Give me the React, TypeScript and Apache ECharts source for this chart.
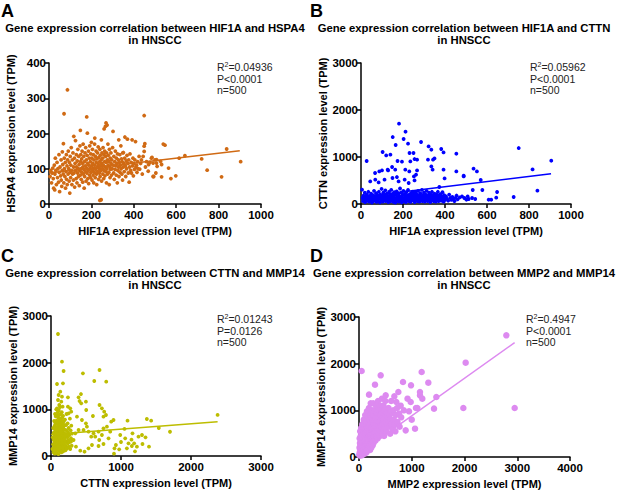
import React, { useEffect, useRef } from "react";
import * as echarts from "echarts";

// ---------- Data ----------
const panelLetters = ["A", "B", "C", "D"];
const titlesLine1 = [
  "Gene expression correlation between HIF1A and HSPA4",
  "Gene expression correlation between HIF1A and CTTN",
  "Gene expression correlation between CTTN and MMP14",
  "Gene expression correlation between MMP2 and MMP14",
];
const titleLine2 = "in HNSCC";
const xNames = [
  "HIF1A expression level (TPM)",
  "HIF1A expression level (TPM)",
  "CTTN expression level (TPM)",
  "MMP2 expression level (TPM)",
];
const yNames = [
  "HSPA4 expression level (TPM)",
  "CTTN expression level (TPM)",
  "MMP14 expression level (TPM)",
  "MMP14 expression level (TPM)",
];
const rSquared = ["0.04936", "0.05962", "0.01243", "0.4947"];
const pValues = ["P<0.0001", "P<0.0001", "P=0.0126", "P<0.0001"];
const nLabels = ["n=500", "n=500", "n=500", "n=500"];
const xMax = [1000, 1000, 3000, 4000];
const xInterval = [200, 200, 1000, 1000];
const yMax = [400, 3000, 3000, 3000];
const yInterval = [100, 1000, 1000, 1000];
const colors = ["#D06A14", "#0000FF", "#BDBD00", "#DD8AF0"];

const fitA = [[0, 88], [900, 151]];
const fitB = [[0, 150], [905, 645]];
const fitC = [[0, 460], [2380, 736]];
const fitD = [[0, 80], [2950, 2450]];

const pointsA = [
  [5,78],[8,95],[12,60],[15,88],[18,102],[20,72],[22,45],[25,110],[27,40],[28,85],[30,130],[32,95],[35,55],[38,118],[40,75],[42,100],[45,62],[47,140],[48,90],[50,35],
  [52,105],[55,80],[57,125],[58,68],[60,50],[62,95],[63,148],[65,112],[67,85],[68,171],[70,60],[71,256],[72,130],[73,100],[75,78],[77,118],[78,45],[80,92],[82,140],[83,70],[85,108],[86,55],[87,324],[88,125],[90,85],[91,150],[93,100],[95,65],[96,118],[98,31],[99,90],[100,135],
  [102,75],[103,110],[105,160],[106,95],[108,55],[110,125],[111,85],[113,145],[115,68],[116,105],[117,192],[118,88],[120,130],[121,48],[123,115],[125,180],[126,95],[128,72],[129,140],[130,105],[132,60],[133,122],[135,88],[136,155],[138,100],[139,78],[140,135],[142,112],[143,52],[145,95],[146,165],[148,209],[148,82],[149,120],[150,140],
  [151,100],[152,70],[154,128],[155,90],[156,150],[158,115],[159,62],[160,105],[161,170],[162,85],[164,135],[165,98],[166,45],[167,120],[168,78],[170,145],[171,108],[172,92],[173,160],[175,65],[176,125],[178,247],[178,102],[179,88],[180,138],[181,201],[182,115],[183,72],[185,95],[186,150],[187,58],[188,110],[190,130],[191,82],[192,165],[194,100],[195,120],[196,75],[197,142],[198,90],[200,175],[200,108],
  [202,130],[203,68],[204,95],[205,155],[206,115],[208,82],[209,140],[210,102],[211,60],[212,125],[214,90],[215,170],[216,187],[216,110],[218,75],[219,135],[220,98],[222,150],[223,118],[224,85],[225,55],[226,128],[228,105],[229,145],[230,92],[232,162],[233,112],[234,70],[235,132],[237,100],[238,88],[239,120],[240,10],[240,155],[241,78],[242,138],[243,108],[246,12],[245,95],[246,125],[247,182],[248,65],[249,115],[250,145],
  [252,100],[253,130],[254,85],[255,160],[256,110],[258,72],[259,140],[260,213],[260,95],[262,120],[263,150],[264,80],[265,105],[266,220],[267,135],[268,92],[269,230],[270,118],[271,60],[272,145],[273,100],[274,224],[275,125],[276,85],[278,170],[279,110],[280,138],[282,90],[283,120],[284,55],[285,155],[287,105],[288,75],[289,130],[290,98],[292,145],[293,115],[295,82],[296,125],[298,100],[300,160],[302,206],
  [303,110],[305,88],[306,135],[308,70],[310,120],[312,98],[313,150],[315,108],[317,82],[318,130],[320,115],[322,60],[323,142],[325,95],[327,125],[328,105],[329,182],[330,78],[332,118],[334,140],[335,90],[337,110],[339,165],[340,100],[342,128],[344,85],[345,120],[347,68],[348,145],[350,105],
  [351,146],[353,115],[355,92],[357,130],[358,190],[360,108],[362,78],[364,122],[366,100],[368,138],[370,184],[372,115],[374,88],[376,125],[378,62],[380,105],[382,142],[385,95],[388,118],[389,88],[392,182],[394,108],[396,130],[398,80],[400,115],[403,98],[405,125],[408,177],[410,105],[413,110],[415,90],[418,120],[420,100],
  [425,135],[428,99],[432,115],[436,125],[440,85],[444,135],[449,164],[449,149],[449,251],[452,171],[455,105],[460,120],[468,93],[470,112],[476,118],[483,130],[486,132],[491,116],[491,78],[494,78],[500,125],[504,88],[507,116],[507,126],[510,107],[526,121],[531,112],[531,77],[539,170],[547,167],
  [564,102],[575,72],[598,80],[614,130],[641,137],[720,128],[746,96],[814,77],[838,156],[904,120],
];

const pointsB = [
  [5,304],[8,120],[10,60],[12,180],[15,90],[18,240],[20,40],[22,150],[25,100],[27,915],[28,200],[30,70],[32,130],[35,260],[38,50],[40,110],[42,170],[44,481],[45,80],[48,220],[50,140],[52,30],[55,100],[57,190],[60,60],[62,280],[64,120],[66,160],[67,660],[68,517],[70,90],[72,230],[74,45],[76,130],[78,180],[80,70],[82,110],[84,460],[85,260],[87,694],[88,150],[90,35],[92,200],[94,95],[96,130],[98,320],[100,715],[100,75],[102,170],[103,1106],[104,50],[106,240],[108,110],[110,145],[112,517],[113,80],[115,190],[116,290],[118,60],[120,1034],[121,125],[123,220],[125,95],[127,730],[128,165],[129,715],
  [130,40],[132,135],[134,260],[136,85],[138,190],[140,1049],[140,55],[142,120],[144,300],[146,160],[148,787],[148,75],[150,553],[150,210],[151,1425],[152,105],[154,45],[156,170],[158,250],[160,90],[162,130],[163,730],[164,30],[165,1255],[166,200],[168,110],[170,270],[171,574],[172,65],[174,915],[174,150],[176,95],[178,220],[179,481],[180,50],[181,1709],[182,175],[184,120],[186,330],[188,80],[190,140],[192,240],[194,35],[195,900],[196,115],[198,190],[200,70],[202,280],[203,1383],[204,130],[206,55],[208,517],[208,210],[210,95],[211,730],[212,1538],[212,160],[214,40],[216,250],[218,110],[220,180],[222,75],[224,1283],[224,300],[226,140],[227,447],[228,60],[230,694],[230,200],[231,1085],[232,100],[234,165],[235,906],[236,45],[238,230],[240,120],[242,80],[244,190],[246,260],[248,140],[250,1085],[250,70],[252,587],[252,210],[254,110],[255,502],[255,957],[256,40],[258,170],[260,250],[262,623],[262,90],[264,130],[266,200],[267,943],[267,715],[268,60],[270,150],[272,280],[274,100],[276,180],[278,50],[280,130],[282,230],[284,80],[286,1319],[286,160],[288,110],[290,300],[292,60],[294,190],[296,130],[298,90],[300,240],
  [302,160],[304,50],[306,120],[308,200],[310,80],[312,280],[314,150],[316,100],[319,943],[318,60],[320,180],[322,1226],[322,130],[324,240],[326,90],[328,160],[330,40],[332,200],[334,120],[335,1155],[335,800],[336,80],[338,260],[340,150],[341,730],[342,100],[343,943],[344,190],[346,60],[348,130],[350,970],[350,220],[352,90],[354,160],[356,50],[358,120],[360,200],[362,80],[364,140],[366,260],[368,100],[370,60],[373,362],[372,180],[374,120],[376,90],[378,210],[380,140],[382,1170],[382,70],[384,160],[386,110],[388,250],[390,80],[392,150],[393,1098],[393,730],[394,50],[396,190],[398,545],[398,120],[400,90],[405,160],[410,110],[415,70],[420,200],[425,130],[430,90],[435,150],[440,110],[445,60],[450,130],[454,1070],[454,694],[455,180],
  [460,100],[470,140],[481,162],[489,587],[489,602],[492,128],[502,91],[508,162],[513,106],[529,128],[532,298],[536,751],[544,106],[552,694],[570,511],[578,298],[608,91],[620,91],[644,134],[648,255],[727,149],[751,1191],[817,736],[840,283],[906,921],
];

const pointsC = [
  [20,150],[25,400],[30,250],[32,600],[35,80],[38,350],[40,500],[42,200],[45,750],[46,120],[48,300],[50,450],[52,650],[54,50],[55,380],[57,900],[58,220],[60,550],[62,160],[63,700],[64,420],[66,300],[67,850],[68,100],[70,480],[71,620],[72,260],[74,380],[75,1000],[76,180],[78,540],[79,320],[80,760],[81,440],[82,60],[84,280],[85,600],[86,1021],[86,1543],[87,380],[88,200],[89,500],[90,880],[91,340],[92,130],[93,680],[94,420],[95,260],[96,560],[97,940],[98,150],[99,460],
  [100,2614],[100,1200],[100,320],[101,720],[102,220],[103,580],[104,380],[105,40],[106,820],[107,480],[108,280],[109,1307],[109,640],[110,180],[111,420],[112,980],[113,340],[114,560],[115,110],[116,760],[117,240],[118,1093],[118,500],[119,380],[120,660],[121,200],[122,880],[123,440],[124,300],[125,580],[126,150],[127,720],[128,400],[129,1050],[130,260],[131,540],[132,90],[133,1378],[133,640],[134,340],[135,480],[136,180],[137,800],[138,420],[139,300],[140,600],[141,120],[142,900],[143,460],[144,240],[145,680],[146,360],[147,1164],[147,520],[148,200],[149,760],[150,400],
  [151,80],[152,580],[153,280],[154,940],[155,440],[156,160],[157,2021],[157,1271],[157,640],[158,340],[159,500],[160,220],[161,820],[162,420],[163,120],[164,600],[165,300],[166,1057],[166,460],[167,700],[168,180],[169,380],[170,540],[171,1557],[172,260],[173,860],[174,440],[175,100],[176,620],[177,320],[178,480],[180,1821],[180,200],[182,740],[184,400],[186,280],[188,560],[190,150],[192,660],[194,360],[196,480],[198,240],[200,780],
  [203,420],[206,120],[208,560],[210,320],[213,660],[216,200],[219,450],[222,900],[225,300],[228,540],[231,160],[234,400],[237,700],[240,260],[242,1257],[242,1057],[244,500],[248,340],[251,914],[252,600],[256,200],[260,450],[265,300],[270,800],[275,1021],[275,150],[280,550],[285,307],[285,380],[289,950],[290,650],[295,220],[300,480],
  [322,343],[347,486],[357,200],[371,843],[394,1257],[394,557],[408,1178],[418,114],[428,1328],[432,1129],[442,771],[456,1771],[465,557],[479,92],[499,1164],[499,700],[503,986],[513,628],[536,521],[536,164],[575,414],[585,236],[599,857],[608,486],[618,1607],[632,414],[679,521],[679,214],[689,343],[693,1843],[693,1093],[727,1021],[727,450],[750,843],[750,257],[750,593],[760,950],[785,879],[789,1593],[799,628],[822,379],[846,521],[860,736],[893,771],[900,50],[907,164],[927,236],[974,143],[989,450],[1000,300],[1050,580],[1060,379],[1084,164],[1093,757],[1107,271],[1150,350],[1155,214],[1164,486],[1188,271],[1200,100],[1227,200],[1250,414],[1300,450],[1307,257],[1350,400],[1369,793],[1400,200],[1431,757],[1540,600],[1700,520],[2380,880],
];

const pointsD = [
  [5,50],[10,200],[12,400],[15,100],[18,300],[20,30],[22,550],[25,150],[28,250],[30,80],[32,450],[35,350],[38,180],[40,620],[42,60],[45,280],[48,400],[50,1843],[50,120],[52,520],[55,220],[58,330],[60,40],[62,700],[65,160],[68,450],[70,260],[72,90],[75,380],[78,580],[80,200],[82,320],[85,130],[88,480],[90,800],[92,250],[95,400],[98,160],[100,560],
  [102,300],[105,70],[108,450],[110,650],[112,220],[115,350],[118,900],[120,130],[122,500],[125,280],[128,420],[130,600],[132,180],[135,750],[138,330],[140,480],[142,100],[145,550],[148,250],[150,980],[152,400],[155,650],[158,200],[160,320],[162,500],[165,860],[168,150],[170,420],[172,600],[175,280],[178,700],[180,380],[182,520],[185,220],[188,1050],[190,1336],[190,450],[192,330],[195,600],[198,800],[200,250],
  [202,520],[205,400],[208,680],[210,150],[212,900],[215,350],[218,560],[220,460],[222,1150],[225,300],[228,700],[230,500],[232,200],[235,620],[238,400],[240,850],[242,300],[245,560],[248,1000],[250,450],[252,700],[255,350],[258,600],[260,250],[262,800],[265,500],[268,400],[270,1150],[272,650],[275,300],[278,550],[280,900],[282,450],[285,700],[288,380],[290,600],[292,1000],[295,500],[298,780],[300,420],[303,1550],[305,650],[310,350],[315,850],[320,550],[325,1100],[330,700],[335,450],[340,950],[345,600],[350,780],[355,400],[360,1200],[365,650],[370,500],[375,850],[380,1000],[385,600],[390,750],[395,450],[400,1100],
  [405,680],[411,1750],[410,900],[415,550],[420,800],[425,1000],[430,650],[435,1250],[440,500],[445,850],[450,700],[455,950],[460,600],[465,1100],[470,800],[475,450],[480,700],[485,1000],[490,600],[495,850],[500,1200],[506,1321],[510,750],[520,550],[530,950],[540,700],[550,850],[560,1050],[570,650],[580,900],[590,500],[600,800],[610,1200],[620,700],[630,950],[640,600],[650,1000],[660,800],[670,1300],[680,700],[690,550],[700,900],[708,1179],[720,1050],[730,750],[746,1393],[758,929],[770,650],[790,1100],[800,850],[834,1607],[850,1000],[885,571],[920,1250],[948,979],[980,1179],[986,1536],[1000,800],[1062,607],[1080,1050],[1106,1050],[1156,1393],[1156,1321],[1188,1821],[1200,1250],[1314,1593],[1422,1036],[1466,1286],[1978,1050],[2022,2021],[2793,2607],[2951,1050],
];

const allPoints = [pointsA, pointsB, pointsC, pointsD];
const allFits = [fitA, fitB, fitC, fitD];
const symbolSizes = [3.8, 3.8, 3.8, 6.5];

// ---------- Layout ----------
const FONT = "'Liberation Sans', Arial, Helvetica, sans-serif";
const grids = [
  { left: 49, top: 63, width: 212, height: 141 },
  { left: 361, top: 63, width: 210, height: 141 },
  { left: 51, top: 316, width: 210, height: 140 },
  { left: 359, top: 317, width: 211, height: 140 },
];
const panelOrigins = [
  [0, 0],
  [309, 0],
  [0, 245],
  [309, 245],
];

export default function App() {
  const ref = useRef<HTMLDivElement>(null);
  useEffect(() => {
    document.body.style.margin = "0";
    if (!ref.current) return;
    const chart = echarts.init(ref.current, undefined, { renderer: "svg" });

    const axisCommon = {
      axisLine: { show: true, lineStyle: { color: "#000", width: 1.5 } },
      axisTick: { show: true, length: 4, lineStyle: { color: "#000", width: 1.5 } },
      splitLine: { show: false },
      nameLocation: "middle" as const,
      nameTextStyle: { color: "#000", fontWeight: "bold", fontSize: 11, fontFamily: FONT },
    };
    const labelStyle = {
      color: "#000",
      fontWeight: "bold",
      fontSize: 11.5,
      fontFamily: FONT,
      formatter: (v: number) => String(v),
    };

    const xAxis = grids.map((_, i) => ({
      ...axisCommon,
      type: "value",
      gridIndex: i,
      min: 0,
      max: xMax[i],
      interval: xInterval[i],
      name: xNames[i],
      nameGap: 21,
      axisLabel: { ...labelStyle, margin: 5 },
    }));
    const yAxis = grids.map((_, i) => ({
      ...axisCommon,
      type: "value",
      gridIndex: i,
      min: 0,
      max: yMax[i],
      interval: yInterval[i],
      name: yNames[i],
      nameGap: 33,
      axisLabel: { ...labelStyle, margin: 3 },
    }));

    const series: any[] = [];
    allPoints.forEach((pts, i) => {
      series.push({
        type: "scatter",
        xAxisIndex: i,
        yAxisIndex: i,
        data: pts,
        symbolSize: symbolSizes[i],
        itemStyle: { color: colors[i], opacity: 1 },
        z: 2,
      });
      series.push({
        type: "line",
        xAxisIndex: i,
        yAxisIndex: i,
        data: allFits[i],
        showSymbol: false,
        symbol: "none",
        lineStyle: { color: colors[i], width: 1.5 },
        z: 3,
      });
    });

    const graphics: any[] = [];
    panelOrigins.forEach(([ox, oy], i) => {
      graphics.push({
        type: "text",
        x: ox + 1,
        y: oy + 11,
        style: { text: panelLetters[i], font: `bold 18px ${FONT}`, fill: "#000", verticalAlign: "middle" },
      });
      graphics.push({
        type: "text",
        x: ox + 155,
        y: oy + 28,
        style: { text: titlesLine1[i], font: `bold 11.3px ${FONT}`, fill: "#000", align: "center", verticalAlign: "middle" },
      });
      graphics.push({
        type: "text",
        x: ox + 155,
        y: oy + 40,
        style: { text: titleLine2, font: `bold 11.3px ${FONT}`, fill: "#000", align: "center", verticalAlign: "middle" },
      });
      const ax = ox + (i === 1 ? 221 : 217);
      const ay = oy + (i < 2 ? 67 : 74);
      graphics.push({
        type: "text",
        x: ax,
        y: ay,
        style: {
          text: `R{sup|2}=${rSquared[i]}`,
          font: `10.5px ${FONT}`,
          fill: "#222",
          verticalAlign: "middle",
          rich: { sup: { fontSize: 7, fontFamily: FONT, fill: "#222", padding: [0, 0, 6, 0] } },
        },
      });
      graphics.push({
        type: "text",
        x: ax,
        y: ay + 12,
        style: { text: pValues[i], font: `10.5px ${FONT}`, fill: "#222", verticalAlign: "middle" },
      });
      graphics.push({
        type: "text",
        x: ax,
        y: ay + 23,
        style: { text: nLabels[i], font: `10.5px ${FONT}`, fill: "#222", verticalAlign: "middle" },
      });
    });

    chart.setOption({
      animation: false,
      backgroundColor: "#fff",
      grid: grids.map((g) => ({ ...g, containLabel: false })),
      xAxis,
      yAxis,
      series,
      graphic: graphics,
    });
    return () => chart.dispose();
  }, []);
  return <div ref={ref} style={{ width: 619, height: 491 }} />;
}
